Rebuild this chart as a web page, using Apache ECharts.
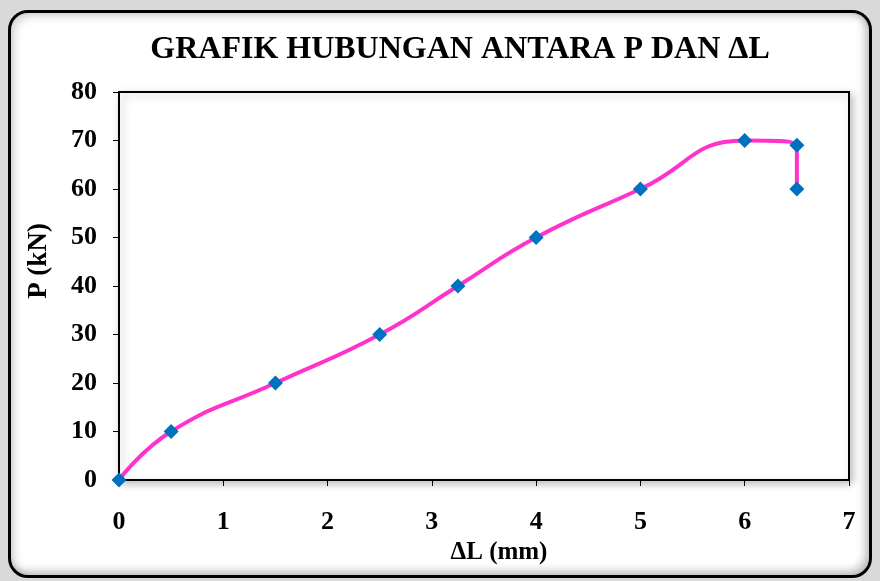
<!DOCTYPE html>
<html>
<head>
<meta charset="utf-8">
<script src="https://cdn.jsdelivr.net/npm/echarts@6/dist/echarts.min.js"></script>
<style>
  html, body { margin: 0; padding: 0; background: #d9d9d9; }
  #box {
    position: absolute; left: 8px; top: 10px; width: 858px; height: 562px;
    border: 3px solid #000; border-radius: 20px; background: #fff;
    box-shadow: inset 4px 4px 8px rgba(0,0,0,0.15), inset -4px -4px 8px rgba(0,0,0,0.25);
  }
  #chart { position: absolute; left: 0; top: 0; width: 880px; height: 581px; }
</style>
</head>
<body>
<div id="box"></div>
<div id="chart"></div>
<script>
// data
const deltaL = [0, 0.5, 1.5, 2.5, 3.25, 4, 5, 6, 6.5, 6.5]
const load = [0, 10, 20, 30, 40, 50, 60, 70, 69, 60]

const fontFamily = '"Liberation Serif", "Times New Roman", serif'

const chart = echarts.init(document.getElementById('chart'))

chart.setOption({
  backgroundColor: 'transparent',
  animation: false,
  title: {
    text: 'GRAFIK HUBUNGAN ANTARA P DAN \u0394L',
    left: 455,
    top: 29,
    textAlign: 'center',
    textStyle: { fontFamily, fontSize: 32, fontWeight: 'bold', color: '#000' }
  },
  grid: {
    left: 119,
    top: 92,
    width: 730,
    height: 388,
    show: true,
    backgroundColor: '#fff',
    borderColor: '#000',
    borderWidth: 2,
    shadowColor: 'rgba(0,0,0,0.25)',
    shadowBlur: 8,
    shadowOffsetX: 3,
    shadowOffsetY: 3
  },
  xAxis: {
    type: 'value',
    min: 0,
    max: 7,
    interval: 1,
    name: '\u0394L (mm)',
    nameLocation: 'middle',
    nameGap: 58,
    nameTextStyle: { fontFamily, fontSize: 25, fontWeight: 'bold', color: '#000', padding: [0, 0, 0, 30] },
    axisLine: { lineStyle: { color: '#000', width: 2 } },
    axisTick: { show: true, length: 6, lineStyle: { color: '#000' } },
    axisLabel: { fontFamily, fontSize: 26, fontWeight: 'bold', color: '#000', margin: 29 },
    splitLine: { show: false }
  },
  yAxis: {
    type: 'value',
    min: 0,
    max: 80,
    interval: 10,
    name: 'P (kN)',
    nameLocation: 'middle',
    nameGap: 66,
    nameRotate: 90,
    nameTextStyle: { fontFamily, fontSize: 27, fontWeight: 'bold', color: '#000', padding: [0, 0, 0, 50] },
    axisLine: { show: true, lineStyle: { color: '#000', width: 2 } },
    axisTick: { show: true, length: 6, lineStyle: { color: '#000' } },
    axisLabel: { fontFamily, fontSize: 26, fontWeight: 'bold', color: '#000', margin: 22 },
    splitLine: { show: false }
  },
  series: [{
    type: 'line',
    data: deltaL.map((x, i) => [x, load[i]]),
    smooth: 0.5,
    smoothConstraint: false,
    lineStyle: { color: '#ff33cc', width: 4 },
    symbol: 'diamond',
    symbolSize: 15,
    itemStyle: { color: '#0070c0' }
  }]
})
</script>
</body>
</html>
